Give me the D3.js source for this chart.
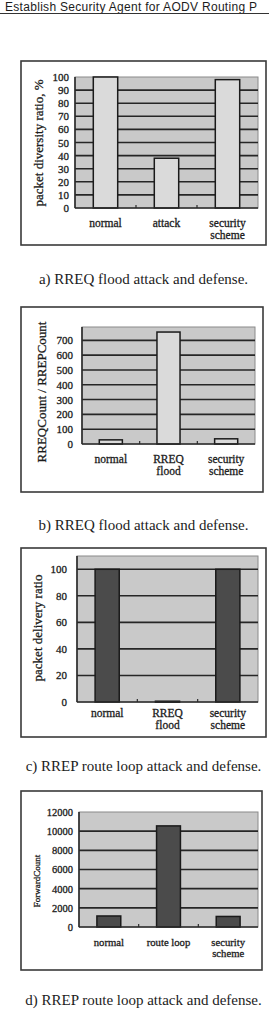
<!DOCTYPE html>
<html lang="en">
<head>
<meta charset="UTF-8">
<title>AODV security agent charts</title>
<script src="https://d3js.org/d3.v7.min.js"></script>
<style>
  body { margin: 0; background: #fff; }
  svg { display: block; }
  text { font-family: "Liberation Serif", "Times New Roman", serif; fill: #1c1c1c; }
  .chart text { stroke: #1c1c1c; stroke-width: 0.3px; }
  .header { font-family: "Liberation Sans", Arial, sans-serif; }
</style>
</head>
<body>
<div id="container"></div>
<script>
// DATA
const catsA = ["normal", "attack", "security\nscheme"];
const valsA = [100, 38, 98];
const ticksA = [0, 10, 20, 30, 40, 50, 60, 70, 80, 90, 100];

const catsB = ["normal", "RREQ\nflood", "security\nscheme"];
const valsB = [28, 756, 35];
const ticksB = [0, 100, 200, 300, 400, 500, 600, 700];

const catsC = ["normal", "RREQ\nflood", "security\nscheme"];
const valsC = [100, 0.6, 100];
const ticksC = [0, 20, 40, 60, 80, 100];

const catsD = ["normal", "route loop", "security\nscheme"];
const valsD = [1150, 10550, 1100];
const ticksD = [0, 2000, 4000, 6000, 8000, 10000, 12000];

const yTitles = ["packet diversity ratio, %", "RREQCount / RREPCount", "packet delivery ratio", "ForwardCount"];
const captions = [
  "a) RREQ flood attack and defense.",
  "b) RREQ flood attack and defense.",
  "c) RREP route loop attack and defense.",
  "d) RREP route loop attack and defense."
];
const headerText = "Establish Security Agent for AODV Routing P";

// SVG
const width = 269, height = 1028;
const svg = d3.select("#container").append("svg")
  .attr("width", width).attr("height", height);

// page header strip (running head of the scanned page)
svg.append("text").attr("class", "header")
  .attr("x", 5).attr("y", 11)
  .style("font-size", "12px")
  .style("letter-spacing", "0.3px")
  .text(headerText);
svg.append("line")
  .attr("x1", 0).attr("x2", width).attr("y1", 13.5).attr("y2", 13.5)
  .attr("stroke", "#333").attr("stroke-width", 1);

function drawChart(o) {
  const g = svg.append("g").attr("class", "chart");
  const [fx0, fy0, fx1, fy1] = o.frame;
  const [px0, py0, px1, py1] = o.plot;

  // outer frame
  g.append("rect")
    .attr("x", fx0).attr("y", fy0)
    .attr("width", fx1 - fx0).attr("height", fy1 - fy0)
    .attr("fill", "#fff").attr("stroke", "#3a3a3a").attr("stroke-width", 1.6);

  const x = d3.scaleBand().domain(o.cats).range([px0, px1])
    .paddingInner(0.6).paddingOuter(0.3);
  const y = d3.scaleLinear().domain([0, o.ymax]).range([py1, py0]);

  // plot area
  g.append("rect")
    .attr("x", px0).attr("y", py0)
    .attr("width", px1 - px0).attr("height", py1 - py0)
    .attr("fill", "#c9c9c9").attr("stroke", "#8a8a8a").attr("stroke-width", 1);

  // gridlines
  g.selectAll("line.grid")
    .data(o.ticks.filter(t => t > 0 && y(t) > py0 + 1))
    .enter().append("line")
    .attr("class", "grid")
    .attr("x1", px0).attr("x2", px1)
    .attr("y1", d => y(d)).attr("y2", d => y(d))
    .attr("stroke", "#262626").attr("stroke-width", 1.6);

  // bars
  g.selectAll("rect.bar")
    .data(o.vals)
    .enter().append("rect")
    .attr("class", "bar")
    .attr("x", (d, i) => x(o.cats[i]))
    .attr("width", x.bandwidth())
    .attr("y", d => y(d))
    .attr("height", d => Math.max(1, y(0) - y(d)))
    .attr("fill", o.barFill).attr("stroke", "#1a1a1a").attr("stroke-width", 1.5);

  // axis lines
  g.append("line")
    .attr("x1", px0).attr("x2", px0).attr("y1", py0).attr("y2", py1)
    .attr("stroke", "#2a2a2a").attr("stroke-width", 1.6);
  g.append("line")
    .attr("x1", px0).attr("x2", px1).attr("y1", py1).attr("y2", py1)
    .attr("stroke", "#2a2a2a").attr("stroke-width", 1.6);

  // small category separators on the x axis
  g.selectAll("line.sep")
    .data(o.cats.slice(1))
    .enter().append("line")
    .attr("class", "sep")
    .attr("x1", d => x(d) - x.step() * x.paddingInner() / 2)
    .attr("x2", d => x(d) - x.step() * x.paddingInner() / 2)
    .attr("y1", py1).attr("y2", py1 - 3)
    .attr("stroke", "#2a2a2a").attr("stroke-width", 1.2);

  // y axis labels
  const yaxis = d3.axisLeft(y).tickValues(o.ticks).tickSize(0).tickPadding(o.tickPad)
    .tickFormat(d3.format("d"));
  const ya = g.append("g").attr("transform", "translate(" + px0 + ",0)").call(yaxis);
  ya.select(".domain").remove();
  ya.selectAll("text")
    .attr("font-family", null)
    .style("font-size", o.tickSize + "px")
    .attr("fill", "#1c1c1c");

  // x category labels
  const xl = g.selectAll("text.xlab")
    .data(o.cats)
    .enter().append("text")
    .attr("class", "xlab")
    .attr("text-anchor", "middle")
    .style("font-size", o.xSize + "px");
  xl.each(function (d) {
    const t = d3.select(this);
    d.split("\n").forEach((line, i) => {
      t.append("tspan")
        .attr("x", x(d) + x.bandwidth() / 2)
        .attr("y", py1 + o.xGap + i * o.xLine)
        .text(line);
    });
  });

  // y title
  g.append("text")
    .attr("transform", "translate(" + o.titleX + "," + o.titleY + ") rotate(-90)")
    .attr("text-anchor", "middle")
    .style("font-size", o.titleSize + "px")
    .text(o.yTitle);

  // caption
  svg.append("text")
    .attr("x", 143.5).attr("y", o.capY)
    .attr("text-anchor", "middle")
    .style("font-size", "15px")
    .text(o.caption);
}

drawChart({
  frame: [21, 61, 266, 245], plot: [75, 77, 258, 208],
  cats: catsA, vals: valsA, ticks: ticksA, ymax: 100,
  barFill: "#dadada", tickPad: 6, tickSize: 11,
  xSize: 11.5, xGap: 19, xLine: 11.5,
  yTitle: yTitles[0], titleX: 43, titleY: 143, titleSize: 13,
  caption: captions[0], capY: 284
});
drawChart({
  frame: [21, 307, 263, 492], plot: [82, 327, 255, 444],
  cats: catsB, vals: valsB, ticks: ticksB, ymax: 790,
  barFill: "#dadada", tickPad: 9, tickSize: 11,
  xSize: 11.5, xGap: 19, xLine: 12,
  yTitle: yTitles[1], titleX: 46, titleY: 392, titleSize: 13,
  caption: captions[1], capY: 530
});
drawChart({
  frame: [21, 548, 266, 737], plot: [77, 556, 258, 702],
  cats: catsC, vals: valsC, ticks: ticksC, ymax: 110,
  barFill: "#4b4b4b", tickPad: 10, tickSize: 11,
  xSize: 11.5, xGap: 15, xLine: 12,
  yTitle: yTitles[2], titleX: 42, titleY: 628, titleSize: 13,
  caption: captions[2], capY: 771
});
drawChart({
  frame: [21, 791, 262, 970], plot: [79, 812, 258, 927],
  cats: catsD, vals: valsD, ticks: ticksD, ymax: 12000,
  barFill: "#4b4b4b", tickPad: 6, tickSize: 10.5,
  xSize: 10.7, xGap: 19, xLine: 11,
  yTitle: yTitles[3], titleX: 40, titleY: 881, titleSize: 9,
  caption: captions[3], capY: 1005
});
</script>
</body>
</html>
